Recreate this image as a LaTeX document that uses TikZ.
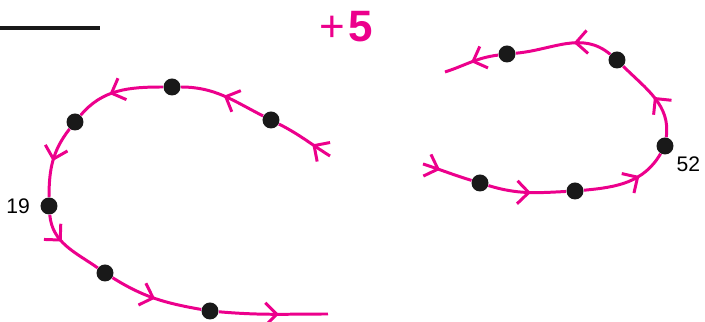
\documentclass[tikz,border=0pt]{standalone}
\usepackage{fontspec}
\setmainfont{Liberation Sans}
\usetikzlibrary{arrows.meta,decorations.markings,positioning}

\definecolor{loopink}{RGB}{236,0,140}

\begin{document}
\begin{tikzpicture}[x=1cm,y=1cm,
    dot/.style={circle,fill=black!90,inner sep=0pt,minimum size=0.34cm},
    curve/.style={draw=loopink,line width=1.7pt},
    seg/.style={curve,postaction={decorate,decoration={markings,
        mark=at position #1 with {\arrow[loopink,line width=1.7pt]
            {Straight Barb[length=2.3mm,width=4.6mm]}}}}},
    seg/.default=0.5,
    num/.style={inner sep=0pt,font=\fontsize{12}{14}\selectfont}]
    \useasboundingbox (0,0) rectangle (14.1,6.44);

    \draw[line width=0.07cm,black!90] (0,5.88) -- (2.0,5.88);
    \node[text=loopink,inner sep=0pt,font=\fontsize{25}{30}\selectfont]
        (plus) at (6.92,5.9) {+\hspace{0.6mm}\textbf{5}};

    % left loop
    \coordinate (ls) at (6.60,3.32);
    \node[dot] (l1) at (5.42,4.04) {};
    \node[dot] (l2) at (3.44,4.70) {};
    \node[dot] (l3) at (1.50,4.00) {};
    \node[dot] (l4) at (0.98,2.32) {};
    \node[dot] (l5) at (2.10,0.98) {};
    \node[dot] (l6) at (4.20,0.22) {};
    \coordinate (le) at (6.56,0.16);
    \draw[seg=0.35] (ls) to[out=148,in=333] (l1);
    \draw[seg] (l1) to[out=153,in=0] (l2);
    \draw[seg=0.6] (l2) to[out=180,in=50] (l3);
    \draw[seg] (l3) to[out=232,in=90] (l4);
    \draw[seg=0.4] (l4) to[out=275,in=145] (l5);
    \draw[seg] (l5) to[out=328,in=170] (l6);
    \draw[seg=0.55] (l6) to[out=355,in=180] (le);
    \node[num,left=2mm of l4] (n19) {19};

    % right loop
    \coordinate (rs) at (8.46,3.16);
    \node[dot] (r1) at (9.60,2.78) {};
    \node[dot] (r2) at (11.50,2.62) {};
    \node[dot] (r3) at (13.30,3.52) {};
    \node[dot] (r4) at (12.34,5.24) {};
    \node[dot] (r5) at (10.14,5.36) {};
    \coordinate (re) at (8.90,5.00);
    \draw[seg=0.35] (rs) to[out=342,in=163] (r1);
    \draw[seg=0.55] (r1) to[out=343,in=183] (r2);
    \draw[seg=0.65] (r2) to[out=5,in=240] (r3);
    \draw[seg] (r3) to[out=82,in=315] (r4);
    \draw[seg=0.4] (r4) to[out=140,in=5] (r5);
    \draw[seg] (r5) to[out=187,in=18] (re);
    \node[num,below right=0.8mm and 1mm of r3] (n52) {52};
\end{tikzpicture}
\end{document}
